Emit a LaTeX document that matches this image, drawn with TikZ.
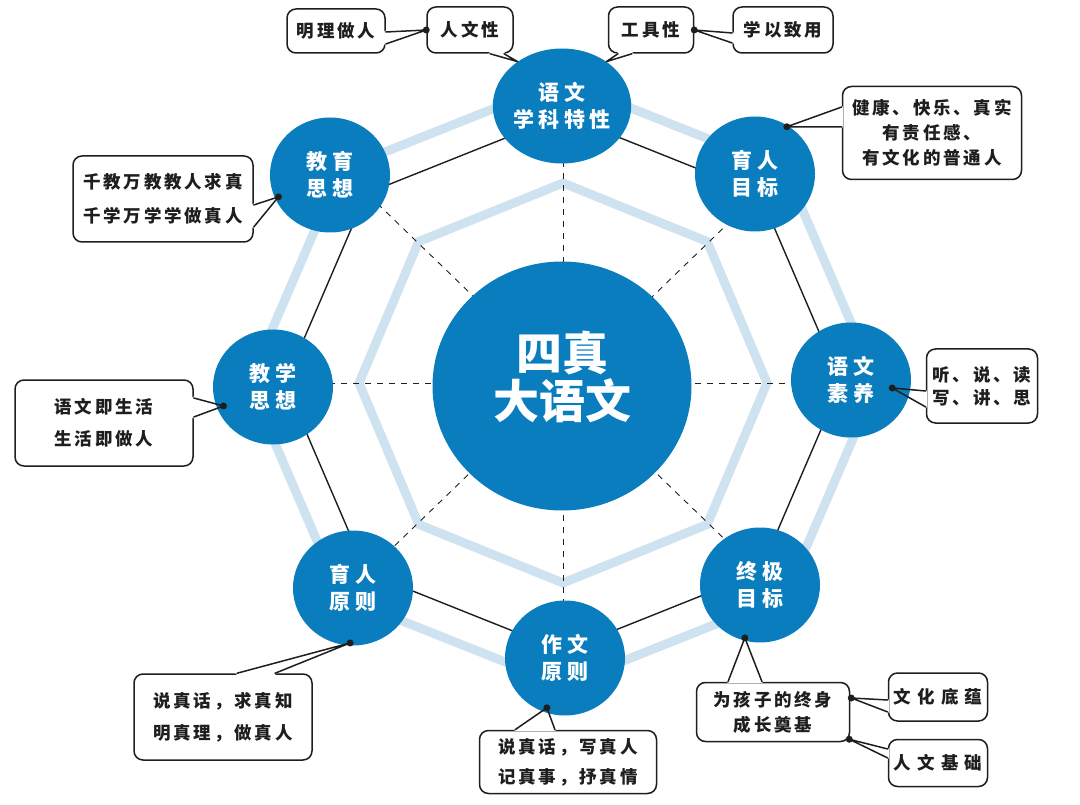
\documentclass[tikz,border=0pt]{standalone}
\usepackage{fontspec}
\usepackage{xcolor}
\usepackage{tikz}
\usetikzlibrary{calc,shapes.geometric}

\newfontfamily\cjk[LetterSpace=16]{Noto Sans CJK SC}
\newfontfamily\cjkwide[LetterSpace=36]{Noto Sans CJK SC}
\newfontfamily\cjkring[LetterSpace=22]{Noto Sans CJK SC}
\newfontfamily\cjkhub{Noto Sans CJK SC}

\definecolor{ringblue}{HTML}{0A7DBE}
\definecolor{bandblue}{HTML}{CFE2F0}
\definecolor{inkdark}{HTML}{1E1E1E}

\tikzset{
  ring/.style={ellipse, fill=ringblue, minimum width=120pt, minimum height=115pt,
    inner sep=0pt, text=white, align=center,
    font=\cjkring\bfseries\fontsize{21}{27}\selectfont},
  hub/.style={ellipse, fill=ringblue, minimum width=259pt, minimum height=249pt, inner sep=0pt},
  bubble/.style={draw=inkdark, line width=1.5pt, fill=white, rounded corners=9pt,
    inner sep=0pt, align=center, text=inkdark,
    font=\cjk\bfseries\fontsize{17.5}{#1}\selectfont},
  bubble/.default=25,
  band/.style={bandblue, line width=9pt, line join=miter},
  spoke/.style={inkdark, line width=0.9pt, dash pattern=on 6pt off 6pt},
  edge/.style={inkdark, line width=1.4pt},
  gapfix/.style={white, line width=3pt},
  tail/.style={inkdark, line width=1.5pt, line join=round},
}

\begin{document}
\begin{tikzpicture}[x=1pt, y=-1pt, line cap=round]
	\useasboundingbox (0,0) rectangle (1080,805);
	
	% --- 1. 中心与八边形顶点 ---
	\coordinate (O) at (563,383);
	\foreach \a [count=\i] in {0,45,...,315} {
		\coordinate (u\i) at ($(O)+(\a:314pt and 302pt)$); % 外浅蓝带
		\coordinate (w\i) at ($(O)+(\a:204pt and 200pt)$); % 内浅蓝带
		\coordinate (k\i) at ($(O)+(\a:278pt and 268pt)$); % 黑色连线
		\coordinate (s\i) at ($(O)+(\a:300pt and 290pt)$); % 虚线端点
	}
	
	% --- 2. 浅蓝八边形、虚线、黑色八边形 ---
	\draw[band] (u1) -- (u2) -- (u3) -- (u4) -- (u5) -- (u6) -- (u7) -- (u8) -- cycle;
	\draw[band] (w1) -- (w2) -- (w3) -- (w4) -- (w5) -- (w6) -- (w7) -- (w8) -- cycle;
	\foreach \i in {1,...,8}
		\draw[spoke, line cap=butt] (O) -- (s\i);
	\draw[edge] (k1) -- (k2) -- (k3) -- (k4) -- (k5) -- (k6) -- (k7) -- (k8) -- cycle;
	
	% --- 3. 圆 ---
	\node[hub] (hub) at (562,386) {};
	\node[text=white, align=center, font=\cjkhub\bfseries\fontsize{46}{48}\selectfont]
		(hubtext) at (562,377) {四真\\大语文};
	
	\node[ring] (xkfx) at (562,106) {语文\\学科特性};
	\node[ring] (yrmb) at (755,174) {育人\\目标};
	\node[ring] (ywsy) at (851,380) {语文\\素养};
	\node[ring] (zjmb) at (760,585) {终极\\目标};
	\node[ring] (zwyz) at (565,658) {作文\\原则};
	\node[ring] (yryz) at (353,588) {育人\\原则};
	\node[ring] (jxsx) at (273,387) {教学\\思想};
	\node[ring] (jysx) at (330,175) {教育\\思想};
	
	% --- 4. 标注框 ---
	\node[bubble, minimum width=98pt, minimum height=44pt] (mlzr) at (336,31) {明理做人};
	\node[bubble, minimum width=86pt, minimum height=46pt] (rwx) at (470,30) {人文性};
	\node[bubble, minimum width=85pt, minimum height=46pt] (gjx) at (651,30) {工具性};
	\node[bubble, minimum width=100pt, minimum height=46pt] (xyzy) at (783,30) {学以致用};
	\node[bubble, minimum width=179pt, minimum height=93pt] (jkkl) at (932,133)
		{健康、快乐、真实\\有责任感、\\有文化的普通人};
	\node[bubble=34, minimum width=180pt, minimum height=86pt] (qjwj) at (163,199)
		{千教万教教人求真\\千学万学学做真人};
	\node[bubble=32, minimum width=178pt, minimum height=86pt] (ywjsh) at (104,423)
		{语文即生活\\生活即做人};
	\node[bubble=23, minimum width=111pt, minimum height=74pt] (tsd) at (982,386)
		{听、说、读\\写、讲、思};
	\node[bubble=32, minimum width=178pt, minimum height=86pt] (szhqzz) at (223,717)
		{说真话，求真知\\明真理，做真人};
	\node[bubble=30, minimum width=177pt, minimum height=63pt] (szhxzr) at (568,762)
		{说真话，写真人\\记真事，抒真情};
	\node[bubble, minimum width=153pt, minimum height=59pt] (whzds) at (773,712)
		{为孩子的终身\\成长奠基};
	\node[bubble, font=\cjkwide\bfseries\fontsize{17.5}{25}\selectfont,
		minimum width=99pt, minimum height=48pt] (whdy) at (938,697) {文化底蕴};
	\node[bubble, font=\cjkwide\bfseries\fontsize{17.5}{25}\selectfont,
		minimum width=99pt, minimum height=47pt] (rwjc) at (938,763) {人文基础};
	
	% --- 5. 指向点 ---
	\coordinate (d1) at ($(yrmb.center)+(56:57pt)$);
	\coordinate (d2) at ($(jysx.center)+(203:56pt)$);
	\coordinate (d3) at ($(jxsx.center)+(201:53pt)$);
	\coordinate (d4) at ($(ywsy.center)+(349:42pt)$);
	\coordinate (d5) at ($(yryz.center)+(267:55pt)$);
	\coordinate (d6) at ($(zwyz.center)+(250:53pt)$);
	\coordinate (d7) at ($(zjmb.center)+(254:55pt)$);
	\coordinate (d8) at ($(whzds.south east)+(-1,-3)$);
	\coordinate (d9) at ($(whzds.east)+(1,-14)$);
	
	% --- 6. 标注框的尖角 ---
	% 明理做人 -> 人文性
	\draw[gapfix] ($(mlzr.east)+(0,1)$) -- ($(mlzr.east)+(0,13)$);
	\draw[tail] ($(mlzr.east)+(0,1)$) -- (rwx.west) -- ($(mlzr.east)+(0,13)$);
	% 人文性 -> 语文学科特性
	\draw[gapfix] ($(rwx.south)+(20,0)$) -- ($(rwx.south)+(34,0)$);
	\draw[tail] ($(rwx.south)+(20,0)$) -- (xkfx.135) -- ($(rwx.south)+(34,0)$);
	% 工具性 -> 语文学科特性
	\draw[gapfix] ($(gjx.south)+(-33,0)$) -- ($(gjx.south)+(-19,0)$);
	\draw[tail] ($(gjx.south)+(-33,0)$) -- (xkfx.45) -- ($(gjx.south)+(-19,0)$);
	% 学以致用 -> 工具性
	\draw[gapfix] ($(xyzy.west)+(0,3)$) -- ($(xyzy.west)+(0,13)$);
	\draw[tail] ($(xyzy.west)+(0,3)$) -- (gjx.east) -- ($(xyzy.west)+(0,13)$);
	% 健康 -> 育人目标
	\draw[gapfix] ($(jkkl.west)+(0,-26)$) -- ($(jkkl.west)+(0,-6)$);
	\draw[tail] ($(jkkl.west)+(0,-26)$) -- (d1) -- ($(jkkl.west)+(0,-6)$);
	% 千教万教 -> 教育思想
	\draw[gapfix] ($(qjwj.east)+(0,6)$) -- ($(qjwj.east)+(0,28)$);
	\draw[tail] ($(qjwj.east)+(0,6)$) -- (d2) -- ($(qjwj.east)+(0,28)$);
	% 语文即生活 -> 教学思想
	\draw[gapfix] ($(ywjsh.east)+(0,-25)$) -- ($(ywjsh.east)+(0,-6)$);
	\draw[tail] ($(ywjsh.east)+(0,-25)$) -- (d3) -- ($(ywjsh.east)+(0,-6)$);
	% 听说读 -> 语文素养
	\draw[gapfix] ($(tsd.west)+(0,5)$) -- ($(tsd.west)+(0,21)$);
	\draw[tail] ($(tsd.west)+(0,5)$) -- (d4) -- ($(tsd.west)+(0,21)$);
	% 说真话求真知 -> 育人原则
	\draw[gapfix] ($(szhqzz.north)+(14,0)$) -- ($(szhqzz.north)+(52,0)$);
	\draw[tail] ($(szhqzz.north)+(14,0)$) -- (d5) -- ($(szhqzz.north)+(52,0)$);
	% 说真话写真人 -> 作文原则
	\draw[gapfix] ($(szhxzr.north)+(-53,0)$) -- ($(szhxzr.north)+(-13,0)$);
	\draw[tail] ($(szhxzr.north)+(-53,0)$) -- (d6) -- ($(szhxzr.north)+(-13,0)$);
	% 为孩子 -> 终极目标
	\draw[gapfix] ($(whzds.north)+(-45,0)$) -- ($(whzds.north)+(-11,0)$);
	\draw[tail] ($(whzds.north)+(-45,0)$) -- (d7) -- ($(whzds.north)+(-11,0)$);
	% 文化底蕴 -> 为孩子
	\draw[gapfix] ($(whdy.west)+(0,3)$) -- ($(whdy.west)+(0,15)$);
	\draw[tail] ($(whdy.west)+(0,3)$) -- (d9) -- ($(whdy.west)+(0,15)$);
	% 人文基础 -> 为孩子
	\draw[gapfix] ($(rwjc.west)+(0,-14)$) -- ($(rwjc.west)+(0,-5)$);
	\draw[tail] ($(rwjc.west)+(0,-14)$) -- (d8) -- ($(rwjc.west)+(0,-5)$);
	
	% --- 7. 黑点 ---
	\fill[inkdark] (rwx.west) circle (3.5pt);
	\fill[inkdark] (gjx.east) circle (3.5pt);
	\foreach \i in {1,...,9}
		\fill[inkdark] (d\i) circle (3.5pt);
	
\end{tikzpicture}
\end{document}
